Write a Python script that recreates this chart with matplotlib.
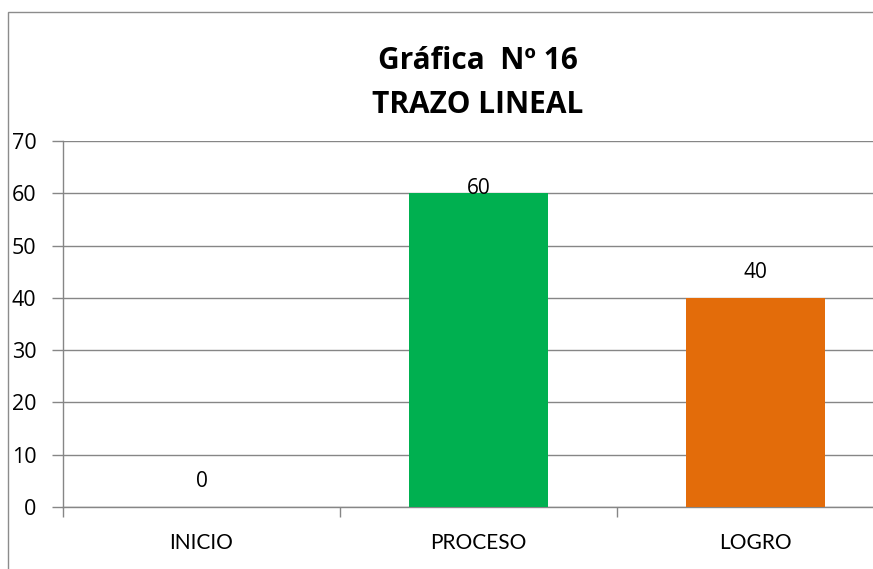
import matplotlib
matplotlib.use("Agg")
import matplotlib.pyplot as plt
from matplotlib.patches import Rectangle

categories = ["INICIO", "PROCESO", "LOGRO"]
values = [0, 60, 40]
colors = ["#4472C4", "#00B050", "#E36C0A"]
yticks = [0, 10, 20, 30, 40, 50, 60, 70]
title = "Gráfica  Nº 16\nTRAZO LINEAL"

W, H = 873, 569
fig = plt.figure(figsize=(W / 100, H / 100), dpi=100)
fig.patch.set_facecolor("white")

# outer chart frame
fig.patches.append(Rectangle((8 / W, -0.1), 1.2, (H - 12) / H + 0.1,
                             transform=fig.transFigure, fill=False,
                             edgecolor="#8c8c8c", linewidth=1.0))

left, right, bottom, top = 63, 894, H - 507, H - 141
ax = fig.add_axes([left / W, bottom / H, (right - left) / W, (top - bottom) / H])

x = list(range(len(categories)))
ax.bar(x, values, width=0.5, color=colors, zorder=3)
ax.set_xlim(-0.5, len(categories) - 0.5)
ax.set_ylim(0, 70)
ax.set_xticks(x)
ax.set_xticklabels(categories, fontsize=15, family="Lato")
ax.set_yticks(yticks)
ax.set_yticklabels([str(t) for t in yticks], fontsize=15.5, family="Open Sans")
ax.set_xticks([i - 0.5 for i in range(len(categories) + 1)], minor=True)
ax.tick_params(axis="x", which="major", length=0, pad=19)
ax.tick_params(axis="x", which="minor", length=7, color="#868686", width=1)
ax.tick_params(axis="y", length=8, color="#868686", width=1, pad=11)

ax.grid(axis="y", color="#868686", linewidth=1, zorder=0)
for s in ["top", "right"]:
    ax.spines[s].set_visible(False)
for s in ["left", "bottom"]:
    ax.spines[s].set_color("#868686")
    ax.spines[s].set_linewidth(1)

for xi, v in zip(x, values):
    ax.text(xi, min(v + 4.9, 61.0), str(v), ha="center", va="center",
            fontsize=15, family="Open Sans", zorder=4)

fig.text(478 / W, 1 - 83 / H, title, ha="center", va="center",
         fontsize=21.5, fontweight="bold", family="Open Sans", linespacing=1.6)

fig.savefig("out.png", dpi=100)
